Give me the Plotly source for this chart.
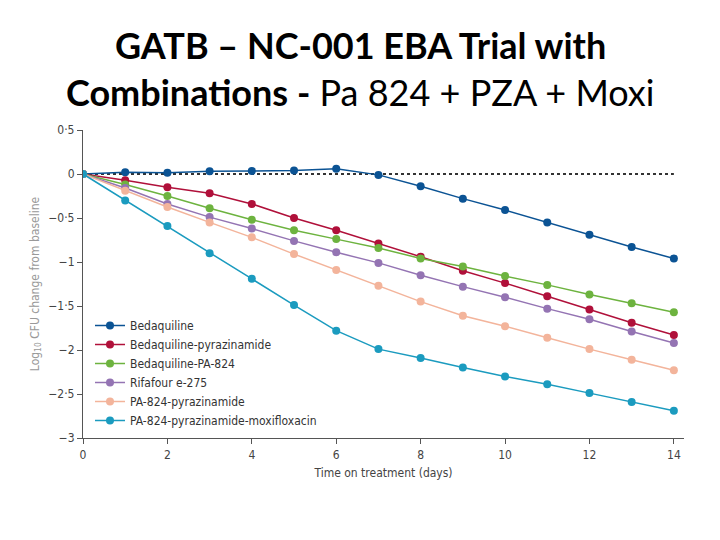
import plotly.graph_objects as go

days = list(range(0, 15))

series_names = [
    "Bedaquiline",
    "Bedaquiline-pyrazinamide",
    "Bedaquiline-PA-824",
    "Rifafour e-275",
    "PA-824-pyrazinamide",
    "PA-824-pyrazinamide-moxifloxacin",
]

bedaquiline = [0, 0.02, 0.015, 0.03, 0.035, 0.04, 0.06, -0.01, -0.14, -0.28, -0.41, -0.55, -0.69, -0.83, -0.96]
bdq_pza = [0, -0.07, -0.15, -0.22, -0.34, -0.50, -0.64, -0.79, -0.94, -1.10, -1.24, -1.39, -1.54, -1.69, -1.83]
bdq_pa824 = [0, -0.12, -0.25, -0.39, -0.52, -0.64, -0.74, -0.84, -0.96, -1.05, -1.16, -1.26, -1.37, -1.47, -1.57]
rifafour = [0, -0.16, -0.34, -0.49, -0.62, -0.76, -0.89, -1.01, -1.15, -1.28, -1.40, -1.53, -1.65, -1.79, -1.92]
pa824_pza = [0, -0.19, -0.375, -0.55, -0.72, -0.91, -1.09, -1.27, -1.45, -1.61, -1.73, -1.86, -1.99, -2.11, -2.23]
pa824_pza_moxi = [0, -0.30, -0.59, -0.90, -1.19, -1.49, -1.78, -1.99, -2.09, -2.20, -2.30, -2.39, -2.49, -2.59, -2.69]

all_values = [bedaquiline, bdq_pza, bdq_pa824, rifafour, pa824_pza, pa824_pza_moxi]
colors = ["#0b5394", "#b0103a", "#6db33f", "#9474b3", "#f3b49b", "#1b9bbf"]

y_tickvals = [0.5, 0, -0.5, -1, -1.5, -2, -2.5, -3]
y_ticktext = ["0·5", "0", "\u22120·5", "\u22121", "\u22121·5", "\u22122", "\u22122·5", "\u22123"]
x_tickvals = [0, 2, 4, 6, 8, 10, 12, 14]

# the page body adds an 8px offset; compensate
OFF = 8
W, H = 720 - OFF, 540 - OFF
ML, MR, MT, MB = 83 - OFF, 36, 130 - OFF, 102

fig = go.Figure()

# dotted baseline
fig.add_trace(go.Scatter(x=[0, 14], y=[0, 0], mode="lines",
                         line=dict(color="#333333", width=2, dash="dot"),
                         showlegend=False, hoverinfo="skip"))

for name, vals, c in zip(series_names, all_values, colors):
    fig.add_trace(go.Scatter(x=days, y=vals, mode="lines+markers", name=name,
                             line=dict(color=c, width=1.5),
                             marker=dict(color=c, size=8)))

narrow = "Liberation Sans Narrow, DejaVu Sans Condensed, sans-serif"
tick_font = dict(family=narrow, size=12, color="#444444")

plot_w = W - ML - MR
plot_h = H - MT - MB


def px_x(px):
    return (px - OFF - ML) / plot_w


def px_y(py):
    return (H - MB - (py - OFF)) / plot_h


fig.update_layout(
    width=W, height=H,
    paper_bgcolor="white", plot_bgcolor="white",
    margin=dict(l=ML, r=MR, t=MT, b=MB, autoexpand=False),
    showlegend=True,
    legend=dict(x=px_x(90), y=px_y(311), xanchor="left", yanchor="top",
                bgcolor="rgba(0,0,0,0)",
                font=dict(family=narrow, size=12, color="#333333"),
                tracegroupgap=0, itemwidth=30),
    xaxis=dict(range=[0, 14.24], tickvals=x_tickvals, showgrid=False, zeroline=False,
               showline=True, linecolor="#555555", linewidth=1.2,
               ticks="outside", ticklen=5, tickcolor="#555555",
               tickfont=tick_font, automargin=False,
               title=dict(text="Time on treatment (days)", font=tick_font, standoff=8)),
    yaxis=dict(range=[-3, 0.5], tickvals=y_tickvals, ticktext=y_ticktext, showgrid=False,
               zeroline=False, showline=True, linecolor="#555555", linewidth=1.2,
               ticks="outside", ticklen=5, tickcolor="#555555",
               tickfont=tick_font, automargin=False,
               title=dict(text="Log<sub>10</sub> CFU change from baseline",
                          font=dict(family=narrow, size=12, color="#999999"),
                          standoff=6)),
    annotations=[
        dict(text="<b>GATB – NC-001 EBA Trial with</b>", x=px_x(360), y=px_y(45),
             xref="paper", yref="paper", xanchor="center", yanchor="middle",
             showarrow=False, font=dict(family="Lato, sans-serif", size=36, color="black")),
        dict(text="<b>Combinations -</b> Pa 824 + PZA + Moxi", x=px_x(360), y=px_y(92),
             xref="paper", yref="paper", xanchor="center", yanchor="middle",
             showarrow=False, font=dict(family="Lato, sans-serif", size=36, color="black")),
    ],
)

fig.write_html("out.html")
